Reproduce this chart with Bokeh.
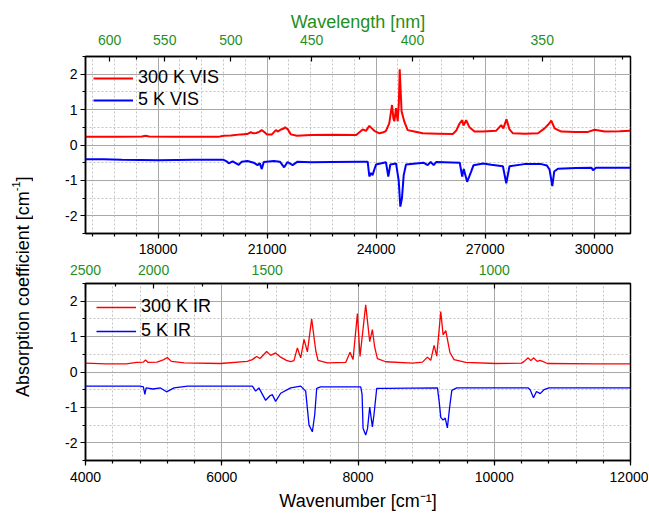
from bokeh.plotting import figure
from bokeh.models import (LinearAxis, SingleIntervalTicker, FixedTicker, CustomJSTickFormatter,
                          Legend, LegendItem, Div, Range1d)
from bokeh.layouts import column, row
from bokeh.embed import file_html
from bokeh.resources import INLINE

# ---------------- data ----------------
vis_300_wn = [16000, 16900, 17550, 17650, 17750, 18500, 19650, 19800, 20000, 20270, 20450, 20550,
              20620, 20700, 20790, 20850, 20930, 20990, 21130, 21240, 21300, 21375, 21450, 21490,
              21570, 21650, 21820, 22200, 22800, 23450, 23630, 23720, 23812, 23880, 23950, 24090,
              24200, 24270, 24360, 24436, 24475, 24500, 24547, 24593, 24625, 24648, 24680, 24700,
              24775, 24867, 25050, 25280, 25700, 26110, 26200, 26292, 26367, 26403, 26477, 26568,
              26706, 26940, 27300, 27442, 27500, 27588, 27670, 27764, 28100, 28453, 28635, 28756,
              28820, 28911, 29096, 29500, 29832, 30013, 30289, 30700, 31000]
vis_300_abs = [0.23, 0.23, 0.24, 0.26, 0.24, 0.23, 0.23, 0.26, 0.27, 0.30, 0.31, 0.36,
               0.33, 0.34, 0.38, 0.42, 0.36, 0.30, 0.30, 0.42, 0.38, 0.44, 0.46, 0.50,
               0.44, 0.30, 0.26, 0.28, 0.29, 0.28, 0.44, 0.40, 0.54, 0.47, 0.40, 0.33,
               0.36, 0.40, 0.61, 1.13, 0.75, 0.67, 1.04, 0.67, 1.20, 2.14, 1.40, 0.95,
               0.66, 0.42, 0.38, 0.33, 0.32, 0.31, 0.40, 0.60, 0.70, 0.55, 0.70, 0.50,
               0.38, 0.38, 0.40, 0.56, 0.47, 0.73, 0.44, 0.33, 0.32, 0.33, 0.47, 0.60,
               0.69, 0.47, 0.38, 0.37, 0.37, 0.43, 0.38, 0.39, 0.40]

vis_5_wn = [16000, 16500, 17000, 18000, 19000, 19800, 19900, 19942, 20050, 20218, 20300, 20458,
            20632, 20734, 20800, 20852, 20907, 21183, 21350, 21467, 21561, 21699, 21837, 22203,
            22755, 23582, 23766, 23812, 23858, 23900, 23995, 24270, 24334, 24390, 24547, 24620,
            24665, 24710, 24758, 24822, 25100, 25300, 25418, 25500, 25583, 25650, 26300, 26367,
            26410, 26504, 26614, 26680, 26946, 27166, 27488, 27580, 27670, 28076, 28545, 28700,
            28773, 28848, 28900, 29003, 29500, 29922, 29970, 30050, 30500, 31000]
vis_5_abs = [-0.40, -0.40, -0.42, -0.43, -0.42, -0.42, -0.47, -0.52, -0.46, -0.56, -0.47, -0.45,
             -0.50, -0.57, -0.52, -0.68, -0.48, -0.45, -0.47, -0.63, -0.48, -0.57, -0.47, -0.49,
             -0.48, -0.47, -0.47, -0.89, -0.79, -0.85, -0.55, -0.49, -0.89, -0.55, -0.52, -1.00,
             -1.74, -1.50, -0.85, -0.55, -0.52, -0.50, -0.57, -0.48, -0.57, -0.48, -0.50, -0.89,
             -0.68, -1.04, -0.75, -0.57, -0.52, -0.56, -0.60, -1.08, -0.60, -0.54, -0.54, -0.58,
             -0.70, -1.16, -0.75, -0.67, -0.65, -0.64, -0.71, -0.64, -0.64, -0.64]

ir_300_wn = [4000, 4300, 4600, 4750, 4850, 4881, 4920, 5050, 5150, 5200, 5260, 5450, 5983, 6375,
             6449, 6512, 6561, 6659, 6718, 6791, 6865, 6950, 7012, 7060, 7110, 7159, 7208, 7257,
             7320, 7380, 7413, 7551, 7820, 7883, 7927, 7991, 8030, 8113, 8172, 8211, 8245, 8285,
             8407, 8799, 8946, 9019, 9068, 9117, 9156, 9215, 9249, 9288, 9310, 9350, 9410, 9582,
             10023, 10400, 10439, 10498, 10537, 10576, 10630, 10674, 10782, 11500, 12000]
ir_300_abs = [0.25, 0.23, 0.23, 0.27, 0.28, 0.34, 0.27, 0.28, 0.35, 0.41, 0.30, 0.26, 0.24, 0.30,
              0.35, 0.44, 0.38, 0.58, 0.47, 0.54, 0.42, 0.33, 0.29, 0.32, 0.68, 0.40, 0.92, 0.57,
              1.50, 0.60, 0.33, 0.26, 0.27, 0.56, 0.35, 1.65, 0.44, 1.90, 0.86, 1.20, 0.70, 0.38,
              0.29, 0.25, 0.28, 0.42, 0.33, 0.75, 0.45, 1.71, 1.05, 1.17, 0.95, 0.55, 0.35, 0.27,
              0.24, 0.25, 0.30, 0.40, 0.32, 0.40, 0.30, 0.33, 0.24, 0.23, 0.23]

ir_5_wn = [4000, 4800, 4850, 4871, 4890, 4990, 5100, 5190, 5300, 5500, 6450, 6497, 6546, 6644,
           6708, 6742, 6791, 6865, 7012, 7159, 7232, 7281, 7330, 7365, 7394, 7450, 8040, 8060,
           8074, 8113, 8140, 8172, 8211, 8235, 8275, 8400, 9166, 9190, 9215, 9249, 9280, 9312,
           9345, 9377, 9450, 10500, 10527, 10576, 10620, 10674, 10730, 10806, 12000]
ir_5_abs = [-0.40, -0.40, -0.42, -0.63, -0.45, -0.48, -0.45, -0.56, -0.45, -0.40, -0.40, -0.54,
            -0.45, -0.80, -0.67, -0.64, -0.83, -0.60, -0.45, -0.40, -0.54, -1.50, -1.69, -1.20,
            -0.46, -0.42, -0.42, -0.63, -1.59, -1.78, -1.60, -0.99, -1.55, -1.20, -0.46, -0.46,
            -0.45, -0.81, -1.28, -1.36, -1.30, -1.58, -1.00, -0.52, -0.45, -0.45, -0.50, -0.73,
            -0.55, -0.61, -0.50, -0.45, -0.45]

vis_nm_major = [600, 550, 500, 450, 400, 350]
vis_nm_minor = [575, 525, 475, 425, 375, 325]
ir_nm_major = [2500, 2000, 1500, 1000]
ir_nm_minor = [2250, 1750, 1250]

series_labels = ["300 K VIS", "5 K VIS", "300 K IR", "5 K IR"]

# ---------------- style ----------------
RED = "#ff0000"
BLUE = "#0000ff"
GREEN = "#1f8f1f"
FONT = "Liberation Sans"
TICK_FS = "14px"
TITLE_FS = "18px"


def make_panel(xr, height, b_top, b_bottom, x_interval, nm_major, nm_minor, top_label,
               top_standoff, bottom_standoff, bottom_label, bottom_label_standoff):
    p = figure(width=610, height=height, x_range=Range1d(*xr), y_range=Range1d(-2.5, 2.5),
               output_backend="svg", toolbar_location=None,
               min_border_left=47, min_border_right=18,
               min_border_top=b_top, min_border_bottom=b_bottom)
    p.background_fill_color = "white"
    p.border_fill_color = "white"
    p.outline_line_color = "black"
    p.outline_line_width = 1.5

    xt = SingleIntervalTicker(interval=x_interval, num_minor_ticks=5)
    yt = SingleIntervalTicker(interval=1, num_minor_ticks=2)
    xa = p.xaxis[0]
    ya = p.yaxis[0]
    xa.ticker = xt
    ya.ticker = yt
    p.xgrid.ticker = xt
    p.ygrid.ticker = yt
    ya.formatter = CustomJSTickFormatter(code="return tick.toFixed(0);")

    for ax in (xa, ya):
        ax.axis_line_color = "black"
        ax.axis_line_width = 1.5
        ax.major_tick_line_width = 1.2
        ax.minor_tick_line_width = 1.2
        ax.major_tick_out = 5
        ax.major_tick_in = 0
        ax.minor_tick_out = 3
        ax.minor_tick_in = 0
        ax.major_label_text_font = FONT
        ax.major_label_text_font_size = TICK_FS
        ax.major_label_text_color = "black"
        ax.major_label_standoff = 3
        ax.axis_label_text_font = FONT
        ax.axis_label_text_font_size = TITLE_FS
        ax.axis_label_text_font_style = "normal"
        ax.axis_label_text_color = "black"
        ax.axis_label_standoff = 3
    xa.major_label_standoff = bottom_standoff
    xa.axis_label_standoff = bottom_label_standoff
    if bottom_label:
        xa.axis_label = bottom_label

    for g in (p.xgrid[0], p.ygrid[0]):
        g.grid_line_color = "#a8a8a8"
        g.grid_line_width = 1
        g.minor_grid_line_color = "#c4c4c4"
        g.minor_grid_line_dash = "2 2"
        g.minor_grid_line_width = 1

    top = LinearAxis(
        ticker=FixedTicker(ticks=[1e7 / nm for nm in nm_major],
                           minor_ticks=[1e7 / nm for nm in nm_minor]),
        formatter=CustomJSTickFormatter(code="return Math.round(1e7 / tick).toString();"))
    if top_label:
        top.axis_label = top_label
    top.axis_line_color = "black"
    top.axis_line_width = 1.5
    top.major_tick_in = 5
    top.major_tick_out = 0
    top.minor_tick_in = 3
    top.minor_tick_out = 0
    top.major_tick_line_width = 1.2
    top.minor_tick_line_width = 1.2
    top.major_label_text_font = FONT
    top.major_label_text_font_size = TICK_FS
    top.major_label_text_color = GREEN
    top.major_label_standoff = top_standoff
    top.axis_label_text_font = FONT
    top.axis_label_text_font_size = TITLE_FS
    top.axis_label_text_font_style = "normal"
    top.axis_label_text_color = GREEN
    top.axis_label_standoff = 0
    p.add_layout(top, "above")
    return p


# ---------------- top panel: VIS ----------------
p1 = make_panel((16000, 31000), 259, 56, 26, 3000, vis_nm_major, vis_nm_minor,
                "Wavelength [nm]", 12, 5, None, 3)
r1 = p1.line(vis_300_wn, vis_300_abs, line_color=RED, line_width=2)
r2 = p1.line(vis_5_wn, vis_5_abs, line_color=BLUE, line_width=2)
leg1 = Legend(items=[LegendItem(label=series_labels[0], renderers=[r1]),
                     LegendItem(label=series_labels[1], renderers=[r2])],
              location=(8, 123), spacing=1)
p1.add_layout(leg1)

# ---------------- bottom panel: IR ----------------
p2 = make_panel((4000, 12000), 254, 24, 52, 2000, ir_nm_major, ir_nm_minor,
                None, 9, 6, "Wavenumber [cm\u207b\u00b9]", 6)
r3 = p2.line(ir_300_wn, ir_300_abs, line_color=RED, line_width=1.3)
r4 = p2.line(ir_5_wn, ir_5_abs, line_color=BLUE, line_width=1.3)
leg2 = Legend(items=[LegendItem(label=series_labels[2], renderers=[r3]),
                     LegendItem(label=series_labels[3], renderers=[r4])],
              location=(11, 119), spacing=3)
p2.add_layout(leg2)

for lg in (leg1, leg2):
    lg.background_fill_alpha = 0
    lg.border_line_alpha = 0
    lg.margin = 0
    lg.padding = 0
    lg.glyph_width = 40
    lg.glyph_height = 20
    lg.label_height = 20
    lg.label_standoff = 5
    lg.label_text_font = FONT
    lg.label_text_font_size = TITLE_FS
    lg.label_text_color = "black"

ylabel = Div(
    text=('<div style="writing-mode: vertical-rl; transform: rotate(180deg); height: 440px; '
          'margin-top: 67px; margin-left: 4px; width: 24px; line-height: 24px; text-align: center; '
          "white-space: nowrap; font-family: 'Liberation Sans', Arial, sans-serif; "
          'font-size: 18px; color: #000;">'
          'Absorption coefficient [cm<sup style="font-size: 11px;">-1</sup>]</div>'),
    width=38, height=513, margin=0)

layout = row(ylabel, column(p1, p2))

with open("out.html", "w") as f:
    f.write(file_html(layout, INLINE))
